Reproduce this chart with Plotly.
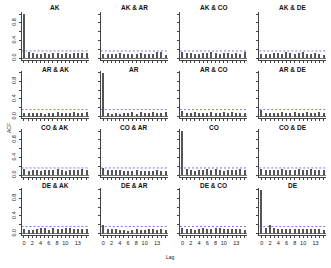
import plotly.graph_objects as go

lags = list(range(16))
ci = 0.16
titles = ["AK", "AK & AR", "AK & CO", "AK & DE",
          "AR & AK", "AR", "AR & CO", "AR & DE",
          "CO & AK", "CO & AR", "CO", "CO & DE",
          "DE & AK", "DE & AR", "DE & CO", "DE"]

acf_AK    = [1.0, 0.12, 0.10, 0.09, 0.09, 0.10, 0.09, 0.11, 0.10, 0.09, 0.11, 0.09, 0.10, 0.11, 0.10, 0.11]
acf_AK_AR = [0.09, 0.09, 0.09, 0.09, 0.10, 0.08, 0.09, 0.09, 0.09, 0.10, 0.09, 0.09, 0.08, 0.13, 0.13, 0.07]
acf_AK_CO = [0.13, 0.11, 0.11, 0.09, 0.09, 0.11, 0.11, 0.13, 0.11, 0.09, 0.10, 0.11, 0.09, 0.10, 0.09, 0.12]
acf_AK_DE = [0.09, 0.09, 0.08, 0.10, 0.11, 0.09, 0.12, 0.10, 0.08, 0.11, 0.12, 0.09, 0.08, 0.10, 0.09, 0.07]
acf_AR_AK = [0.09, 0.09, 0.09, 0.09, 0.09, 0.07, 0.08, 0.08, 0.10, 0.09, 0.09, 0.09, 0.10, 0.09, 0.09, 0.10]
acf_AR    = [1.0, 0.09, 0.07, 0.09, 0.06, 0.09, 0.09, 0.10, 0.07, 0.11, 0.08, 0.09, 0.10, 0.08, 0.09, 0.10]
acf_AR_CO = [0.14, 0.09, 0.09, 0.10, 0.08, 0.09, 0.09, 0.10, 0.08, 0.09, 0.11, 0.09, 0.10, 0.09, 0.08, 0.09]
acf_AR_DE = [0.16, 0.09, 0.09, 0.09, 0.09, 0.10, 0.09, 0.09, 0.11, 0.09, 0.09, 0.10, 0.09, 0.09, 0.10, 0.09]
acf_CO_AK = [0.14, 0.09, 0.10, 0.10, 0.09, 0.10, 0.10, 0.11, 0.13, 0.11, 0.09, 0.11, 0.10, 0.11, 0.12, 0.11]
acf_CO_AR = [0.16, 0.11, 0.10, 0.11, 0.11, 0.09, 0.08, 0.09, 0.11, 0.09, 0.09, 0.08, 0.09, 0.10, 0.09, 0.08]
acf_CO    = [1.0, 0.13, 0.11, 0.09, 0.11, 0.11, 0.13, 0.11, 0.12, 0.11, 0.09, 0.10, 0.11, 0.11, 0.12, 0.11]
acf_CO_DE = [0.14, 0.11, 0.10, 0.11, 0.11, 0.12, 0.11, 0.10, 0.11, 0.13, 0.11, 0.11, 0.12, 0.10, 0.11, 0.11]
acf_DE_AK = [0.11, 0.09, 0.09, 0.11, 0.13, 0.13, 0.09, 0.12, 0.11, 0.11, 0.12, 0.12, 0.11, 0.11, 0.10, 0.11]
acf_DE_AR = [0.19, 0.11, 0.11, 0.10, 0.09, 0.09, 0.07, 0.09, 0.10, 0.09, 0.09, 0.10, 0.10, 0.09, 0.10, 0.09]
acf_DE_CO = [0.12, 0.11, 0.11, 0.09, 0.11, 0.12, 0.11, 0.11, 0.12, 0.13, 0.11, 0.10, 0.11, 0.11, 0.11, 0.08]
acf_DE    = [1.0, 0.13, 0.19, 0.12, 0.10, 0.11, 0.11, 0.11, 0.10, 0.11, 0.10, 0.11, 0.10, 0.11, 0.10, 0.09]

series = [acf_AK, acf_AK_AR, acf_AK_CO, acf_AK_DE,
          acf_AR_AK, acf_AR, acf_AR_CO, acf_AR_DE,
          acf_CO_AK, acf_CO_AR, acf_CO, acf_CO_DE,
          acf_DE_AK, acf_DE_AR, acf_DE_CO, acf_DE]

x_tick_labels = {0: "0", 2: "2", 4: "4", 6: "6", 8: "8", 10: "10", 13: "13"}
y_ticks = [0, 0.2, 0.4, 0.6, 0.8, 1.0]
y_tick_labels = ["0.0", "", "0.4", "", "0.8", ""]

W, H = 331, 268
col_left = [21.5, 100.8, 180.0, 259.3]
col_w = 67.0
zero_px = [58.0, 116.5, 175.0, 233.5]
k = 44.0
title_px = [8, 69, 127, 185]

fig = go.Figure()
layout = dict(width=W, height=H, margin=dict(l=0, r=0, t=0, b=0),
              plot_bgcolor="white", paper_bgcolor="white", showlegend=False,
              font=dict(family="Liberation Sans, Arial", color="black"))
annotations = []
FONT = "Liberation Sans, Arial"

for i in range(16):
    r, c = divmod(i, 4)
    n = "" if i == 0 else str(i + 1)
    xa, ya = "x" + n, "y" + n
    bottom = zero_px[r] + 0.04 * k
    top = bottom - 1.08 * k
    xd = [col_left[c] / W, (col_left[c] + col_w) / W]
    yd = [1 - bottom / H, 1 - top / H]
    fig.add_trace(go.Bar(x=lags, y=series[i], width=0.24, marker=dict(color="#555", line=dict(width=0)),
                         xaxis=xa, yaxis=ya))
    fig.add_trace(go.Scatter(x=[-0.6, 15.6], y=[ci, ci], mode="lines",
                             line=dict(color="#5555ee", width=0.8, dash="2px,2px"),
                             xaxis=xa, yaxis=ya))
    xt = [x_tick_labels.get(l, "") for l in lags] if r == 3 else ["" for _ in lags]
    yt = y_tick_labels if c == 0 else ["" for _ in y_ticks]
    layout["xaxis" + n] = dict(domain=xd, range=[-0.6, 15.6], anchor=ya, showgrid=False, zeroline=False,
                               showline=True, linecolor="#444", linewidth=0.8, ticks="outside", ticklen=2,
                               tickwidth=0.8, tickcolor="#444", tickvals=lags, ticktext=xt,
                               tickfont=dict(size=5.5, family=FONT, color="#222"), tickangle=0)
    layout["yaxis" + n] = dict(domain=yd, range=[-0.04, 1.04], anchor=xa, showgrid=False, zeroline=True,
                               zerolinecolor="#777", zerolinewidth=0.6,
                               showline=True, linecolor="#444", linewidth=0.8, ticks="outside", ticklen=2,
                               tickwidth=0.8, tickcolor="#444", tickvals=y_ticks, ticktext=yt,
                               tickfont=dict(size=5.5, family=FONT, color="#222"), tickangle=-90)
    annotations.append(dict(text="<b>" + titles[i] + "</b>", x=(col_left[c] + col_w / 2) / W,
                            y=1 - title_px[r] / H, xref="paper", yref="paper", showarrow=False,
                            font=dict(size=6.5, family=FONT, color="#111"), xanchor="center", yanchor="middle"))

annotations.append(dict(text="ACF", x=4 / W, y=1 - 128 / H, xref="paper", yref="paper", showarrow=False,
                        textangle=-90, font=dict(size=5, family=FONT, color="#222")))
annotations.append(dict(text="Lag", x=170 / W, y=1 - 262 / H, xref="paper", yref="paper", showarrow=False,
                        font=dict(size=5, family=FONT, color="#222")))
layout["annotations"] = annotations
layout["bargap"] = 0
fig.update_layout(**layout)
fig.write_html("out.html")
